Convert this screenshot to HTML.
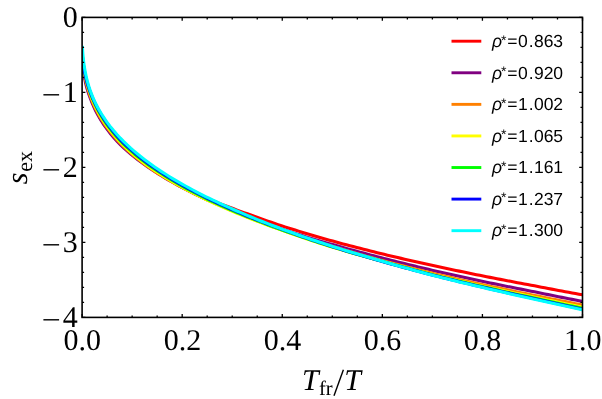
<!DOCTYPE html>
<html><head><meta charset="utf-8"><title>plot</title>
<style>
html,body{margin:0;padding:0;background:#fff;}
body{width:602px;height:399px;overflow:hidden;}
svg{display:block;will-change:transform;}
text{text-rendering:geometricPrecision;}
.t{font-family:"Liberation Serif",serif;font-size:30px;fill:#000;}
.l{font-family:"Liberation Sans",sans-serif;font-size:17.5px;fill:#000;}
</style></head><body>
<svg width="602" height="399" viewBox="0 0 602 399">
<rect width="602" height="399" fill="#fff"/>
<defs><clipPath id="c"><rect x="82.10" y="17.40" width="500.40" height="300.00"/></clipPath></defs>
<g clip-path="url(#c)" fill="none" stroke-width="3.10" stroke-linejoin="round">
<polyline stroke="#ff0000" points="81.97,51.65 82.00,52.24 82.03,52.84 82.06,53.46 82.09,54.10 82.13,54.75 82.17,55.42 82.21,56.10 82.26,56.80 82.31,57.52 82.36,58.25 82.42,59.01 82.49,59.78 82.56,60.57 82.63,61.39 82.71,62.22 82.79,63.07 82.89,63.95 82.99,64.84 83.10,65.76 83.21,66.70 83.34,67.66 83.47,68.65 83.62,69.66 83.78,70.70 83.95,71.76 84.12,72.84 84.30,73.96 84.49,75.10 84.70,76.28 84.92,77.48 85.16,78.71 85.42,79.97 85.70,81.26 86.00,82.58 86.33,83.93 86.68,85.32 87.06,86.74 87.47,88.19 87.91,89.68 88.39,91.20 88.90,92.76 89.45,94.36 90.05,95.99 90.69,97.66 91.32,99.40 91.99,101.17 92.72,103.00 93.50,104.86 94.35,106.78 95.27,108.74 96.26,110.75 97.33,112.81 98.46,114.94 99.68,117.12 101.00,119.36 102.43,121.66 103.97,124.01 105.63,126.43 107.43,128.92 110.77,133.23 114.12,137.21 117.47,140.92 120.82,144.41 124.22,147.65 127.64,150.71 131.06,153.61 134.48,156.37 137.90,159.02 141.32,161.55 144.74,163.99 148.16,166.35 151.58,168.62 155.00,170.81 158.42,172.94 161.84,175.00 165.26,177.01 168.68,178.96 172.10,180.86 175.52,182.71 178.94,184.51 182.36,186.28 185.76,188.04 189.16,189.77 192.56,191.46 195.96,193.11 199.36,194.74 202.76,196.33 206.16,197.90 209.57,199.43 212.99,200.91 216.44,202.28 219.89,203.63 223.33,204.96 226.78,206.26 230.23,207.54 233.66,208.82 237.09,210.11 240.52,211.37 243.95,212.61 247.38,213.83 250.80,215.06 254.21,216.30 257.62,217.54 261.03,218.75 264.44,219.96 267.85,221.14 271.26,222.32 274.66,223.48 278.07,224.62 281.48,225.76 284.90,226.86 288.32,227.95 291.73,229.02 295.15,230.08 298.57,231.14 301.98,232.18 305.40,233.21 308.82,234.23 312.23,235.24 315.65,236.24 319.07,237.23 322.49,238.21 325.90,239.18 329.32,240.14 332.74,241.09 336.16,242.03 339.58,242.96 343.00,243.88 346.41,244.80 349.83,245.70 353.25,246.60 356.67,247.49 360.09,248.37 363.51,249.25 366.93,250.12 370.35,250.98 373.77,251.83 377.19,252.68 380.61,253.52 384.03,254.35 387.45,255.17 390.87,255.98 394.29,256.78 397.72,257.58 401.14,258.37 404.56,259.15 407.98,259.93 411.40,260.71 414.83,261.48 418.25,262.24 421.67,263.00 425.09,263.75 428.51,264.50 431.94,265.24 435.36,265.99 438.77,266.74 442.19,267.48 445.61,268.22 449.03,268.95 452.45,269.68 455.87,270.40 459.29,271.12 462.71,271.83 466.13,272.54 469.55,273.25 472.97,273.95 476.39,274.65 479.80,275.34 483.22,276.03 486.64,276.71 490.07,277.38 493.49,278.05 496.91,278.72 500.33,279.38 503.75,280.04 507.17,280.70 510.59,281.35 514.01,282.00 517.43,282.65 520.85,283.29 524.27,283.93 527.69,284.57 531.11,285.20 534.53,285.85 537.94,286.51 541.36,287.17 544.77,287.82 548.18,288.47 551.60,289.12 555.01,289.76 558.43,290.40 561.84,291.04 565.26,291.67 568.67,292.31 572.09,292.93 575.50,293.56 578.92,294.18 582.33,294.80"/>
<polyline stroke="#800080" points="81.97,56.04 82.00,56.57 82.03,57.11 82.06,57.66 82.09,58.23 82.13,58.82 82.17,59.42 82.21,60.03 82.26,60.66 82.31,61.31 82.36,61.98 82.42,62.66 82.49,63.37 82.56,64.09 82.63,64.83 82.71,65.59 82.79,66.37 82.89,67.17 82.99,67.99 83.10,68.84 83.21,69.70 83.34,70.59 83.47,71.51 83.62,72.44 83.78,73.40 83.95,74.39 84.12,75.41 84.29,76.45 84.48,77.52 84.69,78.62 84.91,79.75 85.15,80.90 85.40,82.09 85.68,83.31 85.98,84.56 86.30,85.85 86.65,87.16 87.02,88.52 87.43,89.90 87.86,91.33 88.33,92.78 88.84,94.28 89.39,95.81 89.98,97.39 90.61,99.00 91.24,100.68 91.91,102.40 92.64,104.17 93.43,105.99 94.27,107.85 95.19,109.77 96.18,111.74 97.25,113.76 98.38,115.84 99.61,117.99 100.94,120.19 102.37,122.45 103.91,124.78 105.58,127.18 107.38,129.64 110.74,133.92 114.09,137.88 117.45,141.59 120.82,145.07 124.22,148.33 127.64,151.40 131.06,154.32 134.48,157.11 137.90,159.79 141.32,162.36 144.74,164.83 148.16,167.22 151.58,169.53 155.00,171.77 158.42,173.93 161.84,176.04 165.26,178.09 168.68,180.08 172.10,182.02 175.52,183.92 178.94,185.77 182.36,187.58 185.77,189.37 189.18,191.11 192.59,192.83 196.01,194.50 199.42,196.15 202.83,197.77 206.24,199.35 209.66,200.91 213.07,202.44 216.48,203.95 219.90,205.43 223.31,206.89 226.73,208.32 230.14,209.74 233.55,211.14 236.96,212.53 240.36,213.91 243.77,215.26 247.18,216.60 250.59,217.92 254.00,219.22 257.40,220.51 260.81,221.78 264.22,223.03 267.63,224.27 271.04,225.50 274.45,226.71 277.86,227.91 281.27,229.09 284.70,230.21 288.13,231.31 291.56,232.40 294.99,233.47 298.42,234.54 301.85,235.59 305.28,236.63 308.71,237.66 312.14,238.68 315.57,239.69 319.00,240.69 322.42,241.68 325.85,242.66 329.28,243.63 332.71,244.60 336.13,245.58 339.55,246.55 342.97,247.51 346.39,248.47 349.81,249.41 353.23,250.35 356.65,251.28 360.07,252.20 363.50,253.12 366.92,254.03 370.34,254.93 373.76,255.82 377.18,256.71 380.60,257.59 384.02,258.47 387.44,259.34 390.86,260.21 394.28,261.07 397.70,261.92 401.12,262.77 404.53,263.62 407.95,264.45 411.37,265.28 414.79,266.11 418.21,266.93 421.63,267.75 425.05,268.56 428.47,269.36 431.89,270.16 435.31,270.95 438.73,271.73 442.15,272.51 445.57,273.28 448.99,274.05 452.41,274.82 455.83,275.58 459.25,276.33 462.67,277.08 466.10,277.83 469.52,278.57 472.94,279.31 476.36,280.04 479.78,280.77 483.20,281.49 486.62,282.21 490.04,282.92 493.47,283.62 496.89,284.33 500.31,285.03 503.73,285.72 507.15,286.41 510.57,287.10 514.00,287.79 517.42,288.47 520.84,289.14 524.26,289.82 527.68,290.49 531.11,291.15 534.52,291.85 537.93,292.55 541.35,293.24 544.76,293.94 548.18,294.63 551.59,295.31 555.01,296.00 558.42,296.68 561.83,297.36 565.25,298.03 568.66,298.70 572.08,299.37 575.49,300.04 578.91,300.70 582.32,301.36"/>
<polyline stroke="#ff8000" points="81.91,48.48 81.94,49.05 81.96,49.64 81.99,50.24 82.02,50.86 82.05,51.50 82.09,52.15 82.13,52.82 82.17,53.50 82.21,54.21 82.26,54.93 82.31,55.68 82.37,56.44 82.43,57.22 82.49,58.02 82.56,58.85 82.64,59.69 82.72,60.56 82.81,61.45 82.91,62.36 83.01,63.30 83.12,64.26 83.24,65.25 83.37,66.26 83.51,67.30 83.66,68.36 83.81,69.46 83.98,70.58 84.15,71.74 84.34,72.92 84.55,74.13 84.77,75.38 85.01,76.66 85.27,77.97 85.55,79.32 85.85,80.70 86.18,82.12 86.53,83.57 86.91,85.07 87.32,86.60 87.76,88.17 88.24,89.78 88.75,91.44 89.31,93.13 89.91,94.88 90.54,96.67 91.21,98.51 91.95,100.40 92.74,102.34 93.59,104.33 94.51,106.37 95.50,108.47 96.58,110.62 97.74,112.83 98.99,115.10 100.34,117.42 101.80,119.81 103.37,122.26 105.07,124.78 106.91,127.36 110.32,131.85 113.73,135.99 117.14,139.85 120.55,143.47 123.98,146.88 127.40,150.10 130.83,153.16 134.26,156.09 137.69,158.89 141.12,161.58 144.54,164.17 147.97,166.66 151.40,169.06 154.85,171.37 158.29,173.61 161.73,175.78 165.17,177.88 168.61,179.93 172.05,181.93 175.49,183.87 178.92,185.77 182.36,187.62 185.80,189.43 189.23,191.20 192.67,192.93 196.10,194.63 199.54,196.29 202.97,197.92 206.41,199.52 209.84,201.09 213.27,202.63 216.70,204.14 220.14,205.63 223.57,207.09 227.00,208.53 230.43,209.95 233.85,211.37 237.25,212.81 240.66,214.23 244.06,215.62 247.47,217.00 250.87,218.36 254.28,219.71 257.69,221.03 261.09,222.34 264.50,223.64 267.91,224.91 271.32,226.18 274.72,227.43 278.13,228.66 281.54,229.88 284.95,231.08 288.37,232.26 291.78,233.42 295.20,234.58 298.61,235.72 302.02,236.85 305.44,237.97 308.85,239.08 312.27,240.18 315.68,241.27 319.10,242.35 322.51,243.42 325.93,244.47 329.34,245.52 332.76,246.56 336.17,247.58 339.59,248.60 343.01,249.61 346.43,250.60 349.84,251.59 353.26,252.57 356.68,253.55 360.09,254.51 363.51,255.47 366.93,256.42 370.35,257.36 373.76,258.30 377.18,259.23 380.60,260.15 384.02,261.06 387.44,261.96 390.85,262.85 394.27,263.74 397.69,264.62 401.11,265.50 404.53,266.37 407.95,267.23 411.37,268.09 414.79,268.94 418.21,269.79 421.63,270.63 425.05,271.46 428.47,272.29 431.88,273.12 435.31,273.92 438.73,274.73 442.15,275.52 445.57,276.31 449.00,277.10 452.42,277.88 455.84,278.65 459.26,279.42 462.68,280.19 466.11,280.95 469.53,281.71 472.95,282.46 476.37,283.21 479.79,283.96 483.22,284.70 486.64,285.44 490.06,286.18 493.48,286.91 496.90,287.64 500.32,288.37 503.74,289.09 507.16,289.81 510.58,290.53 514.00,291.24 517.42,291.94 520.84,292.65 524.26,293.35 527.68,294.04 531.10,294.74 534.52,295.44 537.94,296.14 541.36,296.84 544.77,297.53 548.19,298.23 551.61,298.92 555.02,299.60 558.44,300.28 561.86,300.96 565.28,301.64 568.69,302.31 572.11,302.98 575.53,303.65 578.95,304.31 582.36,304.97"/>
<polyline stroke="#ffff00" points="81.91,46.92 81.94,47.49 81.96,48.06 81.99,48.66 82.02,49.27 82.05,49.89 82.09,50.54 82.13,51.20 82.17,51.88 82.21,52.57 82.26,53.29 82.31,54.02 82.37,54.77 82.43,55.55 82.49,56.34 82.56,57.16 82.64,57.99 82.72,58.85 82.81,59.74 82.91,60.64 83.01,61.57 83.12,62.53 83.24,63.51 83.37,64.51 83.51,65.55 83.66,66.61 83.81,67.69 83.98,68.81 84.16,69.96 84.35,71.14 84.56,72.35 84.78,73.59 85.02,74.87 85.28,76.18 85.57,77.52 85.87,78.90 86.20,80.32 86.55,81.77 86.94,83.26 87.35,84.80 87.79,86.37 88.27,87.98 88.79,89.64 89.35,91.34 89.95,93.08 90.58,94.88 91.26,96.73 91.99,98.63 92.78,100.57 93.63,102.57 94.55,104.63 95.55,106.73 96.62,108.90 97.77,111.13 99.01,113.42 100.35,115.77 101.80,118.18 103.36,120.66 105.05,123.21 106.88,125.83 110.26,130.38 113.65,134.59 117.04,138.52 120.43,142.21 123.86,145.67 127.30,148.92 130.74,152.03 134.17,154.99 137.61,157.82 141.05,160.54 144.48,163.16 147.92,165.69 151.35,168.13 154.78,170.49 158.22,172.79 161.65,175.01 165.08,177.17 168.51,179.27 171.94,181.32 175.37,183.32 178.80,185.27 182.23,187.18 185.66,189.05 189.08,190.88 192.50,192.68 195.93,194.44 199.35,196.16 202.77,197.86 206.19,199.52 209.62,201.15 213.04,202.75 216.46,204.33 219.88,205.88 223.30,207.40 226.73,208.90 230.15,210.38 233.57,211.83 237.00,213.25 240.43,214.65 243.85,216.03 247.28,217.39 250.71,218.73 254.13,220.06 257.56,221.37 260.99,222.66 264.41,223.93 267.84,225.19 271.26,226.43 274.69,227.66 278.11,228.88 281.54,230.08 284.95,231.30 288.36,232.52 291.77,233.73 295.18,234.92 298.59,236.10 302.00,237.27 305.41,238.43 308.82,239.58 312.23,240.71 315.64,241.84 319.05,242.95 322.46,244.06 325.88,245.15 329.29,246.24 332.70,247.30 336.13,248.32 339.56,249.33 342.98,250.33 346.41,251.32 349.83,252.30 353.26,253.27 356.69,254.24 360.11,255.19 363.54,256.14 366.97,257.08 370.39,258.02 373.82,258.94 377.24,259.86 380.67,260.77 384.09,261.71 387.50,262.65 390.91,263.59 394.33,264.52 397.74,265.44 401.15,266.36 404.57,267.27 407.98,268.17 411.40,269.07 414.81,269.96 418.22,270.85 421.64,271.73 425.05,272.61 428.47,273.47 431.88,274.34 435.30,275.17 438.73,275.99 442.15,276.80 445.57,277.62 448.99,278.42 452.42,279.22 455.84,280.02 459.26,280.81 462.68,281.60 466.10,282.38 469.53,283.16 472.95,283.93 476.37,284.70 479.79,285.47 483.21,286.23 486.63,286.99 490.05,287.75 493.48,288.50 496.90,289.25 500.32,290.00 503.74,290.74 507.16,291.48 510.58,292.21 514.00,292.94 517.42,293.67 520.84,294.39 524.26,295.11 527.68,295.82 531.10,296.54 534.52,297.26 537.93,297.99 541.35,298.72 544.76,299.45 548.18,300.17 551.59,300.88 555.01,301.60 558.42,302.31 561.84,303.02 565.25,303.72 568.67,304.42 572.08,305.12 575.50,305.82 578.92,306.51 582.33,307.19"/>
<polyline stroke="#00ff00" points="81.91,47.43 81.94,47.96 81.96,48.51 81.99,49.08 82.02,49.66 82.05,50.26 82.09,50.87 82.13,51.50 82.17,52.15 82.21,52.81 82.26,53.50 82.31,54.20 82.37,54.92 82.43,55.66 82.49,56.43 82.56,57.21 82.64,58.01 82.72,58.84 82.81,59.69 82.91,60.56 83.01,61.46 83.12,62.38 83.24,63.33 83.37,64.30 83.51,65.30 83.66,66.32 83.82,67.38 83.98,68.46 84.17,69.57 84.36,70.72 84.57,71.89 84.80,73.10 85.04,74.34 85.31,75.62 85.60,76.92 85.90,78.27 86.24,79.65 86.60,81.07 86.99,82.53 87.40,84.02 87.86,85.56 88.34,87.14 88.87,88.76 89.44,90.42 90.05,92.13 90.68,93.90 91.35,95.72 92.08,97.58 92.87,99.50 93.73,101.47 94.65,103.50 95.64,105.58 96.71,107.72 97.86,109.92 99.09,112.19 100.43,114.52 101.87,116.92 103.43,119.39 105.11,121.92 106.92,124.53 110.30,129.07 113.68,133.27 117.06,137.20 120.44,140.89 123.86,144.35 127.30,147.61 130.74,150.71 134.17,153.68 137.61,156.52 141.05,159.25 144.48,161.88 147.92,164.42 151.35,166.88 154.77,169.27 158.20,171.58 161.62,173.83 165.05,176.02 168.47,178.15 171.90,180.23 175.32,182.26 178.74,184.24 182.17,186.17 185.60,188.05 189.03,189.90 192.45,191.70 195.88,193.47 199.31,195.21 202.74,196.91 206.16,198.58 209.59,200.23 213.02,201.84 216.44,203.43 219.87,204.99 223.29,206.52 226.72,208.03 230.15,209.52 233.57,210.99 236.99,212.45 240.41,213.89 243.83,215.30 247.25,216.70 250.67,218.07 254.09,219.43 257.52,220.78 260.94,222.10 264.36,223.41 267.78,224.70 271.20,225.98 274.62,227.25 278.04,228.49 281.46,229.73 284.88,230.96 288.29,232.19 291.71,233.40 295.12,234.60 298.54,235.78 301.95,236.96 305.37,238.12 308.79,239.27 312.20,240.41 315.62,241.54 319.03,242.66 322.45,243.77 325.87,244.87 329.28,245.96 332.70,247.03 336.12,248.08 339.55,249.11 342.97,250.13 346.40,251.15 349.82,252.16 353.25,253.15 356.67,254.15 360.10,255.13 363.52,256.10 366.95,257.07 370.37,258.03 373.79,258.98 377.22,259.93 380.64,260.86 384.06,261.81 387.48,262.77 390.89,263.72 394.31,264.66 397.72,265.60 401.14,266.52 404.55,267.45 407.97,268.36 411.38,269.28 414.80,270.18 418.22,271.08 421.63,271.97 425.05,272.86 428.46,273.74 431.88,274.62 435.30,275.46 438.72,276.31 442.15,277.14 445.57,277.97 448.99,278.79 452.41,279.61 455.84,280.43 459.26,281.24 462.68,282.05 466.10,282.85 469.52,283.64 472.95,284.43 476.37,285.22 479.79,286.00 483.21,286.78 486.63,287.56 490.05,288.34 493.47,289.11 496.89,289.88 500.31,290.64 503.73,291.40 507.15,292.16 510.58,292.91 514.00,293.66 517.42,294.40 520.84,295.14 524.26,295.88 527.68,296.61 531.10,297.34 534.51,298.09 537.93,298.84 541.34,299.58 544.76,300.32 548.17,301.06 551.59,301.80 555.00,302.53 558.42,303.26 561.84,303.98 565.25,304.70 568.67,305.42 572.08,306.14 575.50,306.85 578.91,307.56 582.33,308.26"/>
<polyline stroke="#0000ff" points="81.91,48.93 81.94,49.43 81.96,49.94 81.99,50.47 82.02,51.01 82.05,51.57 82.09,52.14 82.13,52.73 82.17,53.34 82.21,53.96 82.26,54.60 82.31,55.26 82.37,55.94 82.43,56.64 82.49,57.36 82.56,58.10 82.64,58.86 82.72,59.64 82.81,60.45 82.91,61.27 83.01,62.12 83.12,63.00 83.24,63.90 83.37,64.82 83.51,65.78 83.66,66.75 83.82,67.76 83.99,68.80 84.17,69.86 84.37,70.96 84.59,72.08 84.82,73.24 85.07,74.43 85.34,75.66 85.63,76.92 85.94,78.21 86.28,79.54 86.64,80.91 87.04,82.31 87.46,83.76 87.92,85.25 88.42,86.77 88.95,88.34 89.53,89.96 90.14,91.61 90.78,93.33 91.46,95.10 92.20,96.91 93.00,98.78 93.87,100.70 94.80,102.67 95.80,104.70 96.88,106.79 98.03,108.96 99.25,111.19 100.58,113.48 102.01,115.85 103.55,118.28 105.22,120.79 107.02,123.37 110.37,127.88 113.72,132.06 117.08,135.97 120.44,139.66 123.85,143.11 127.29,146.37 130.72,149.47 134.15,152.44 137.58,155.28 141.01,158.02 144.44,160.66 147.87,163.21 151.30,165.68 154.72,168.08 158.14,170.41 161.57,172.67 164.99,174.88 168.41,177.02 171.84,179.12 175.26,181.16 178.68,183.16 182.10,185.11 185.53,187.01 188.96,188.87 192.39,190.69 195.82,192.48 199.25,194.23 202.68,195.95 206.10,197.64 209.53,199.30 212.96,200.93 216.38,202.54 219.81,204.12 223.24,205.67 226.66,207.21 230.09,208.71 233.52,210.20 236.94,211.67 240.36,213.12 243.79,214.55 247.21,215.96 250.63,217.35 254.06,218.72 257.48,220.08 260.90,221.42 264.33,222.74 267.75,224.05 271.17,225.35 274.60,226.62 278.02,227.89 281.44,229.14 284.86,230.39 288.28,231.63 291.69,232.86 295.11,234.07 298.53,235.28 301.94,236.47 305.36,237.65 308.78,238.82 312.19,239.98 315.61,241.13 319.03,242.26 322.44,243.39 325.86,244.51 329.28,245.62 332.70,246.71 336.12,247.79 339.54,248.85 342.96,249.91 346.38,250.96 349.80,252.00 353.22,253.03 356.64,254.06 360.06,255.08 363.48,256.08 366.91,257.08 370.33,258.08 373.75,259.06 377.17,260.04 380.59,261.01 384.01,261.98 387.43,262.95 390.85,263.90 394.27,264.85 397.68,265.80 401.10,266.74 404.52,267.67 407.94,268.59 411.36,269.51 414.78,270.42 418.20,271.33 421.62,272.23 425.04,273.13 428.46,274.02 431.88,274.90 435.30,275.76 438.72,276.62 442.15,277.47 445.57,278.31 449.00,279.15 452.42,279.99 455.84,280.82 459.27,281.64 462.69,282.46 466.11,283.28 469.54,284.09 472.96,284.89 476.39,285.69 479.81,286.49 483.23,287.28 486.65,288.08 490.08,288.87 493.50,289.65 496.92,290.44 500.34,291.21 503.76,291.99 507.18,292.76 510.61,293.52 514.03,294.28 517.45,295.04 520.87,295.80 524.29,296.55 527.72,297.29 531.14,298.04 534.55,298.80 537.97,299.57 541.38,300.34 544.80,301.10 548.21,301.86 551.63,302.61 555.04,303.36 558.46,304.11 561.87,304.86 565.29,305.60 568.70,306.34 572.12,307.07 575.53,307.80 578.95,308.53 582.36,309.26"/>
<polyline stroke="#00ffff" points="82.38,45.89 82.40,46.40 82.42,46.92 82.45,47.46 82.47,48.01 82.50,48.58 82.54,49.17 82.57,49.77 82.61,50.39 82.65,51.02 82.69,51.68 82.74,52.35 82.79,53.04 82.84,53.76 82.90,54.49 82.97,55.24 83.04,56.02 83.11,56.81 83.19,57.63 83.28,58.48 83.37,59.34 83.47,60.23 83.58,61.15 83.70,62.09 83.82,63.06 83.96,64.06 84.10,65.09 84.26,66.14 84.43,67.23 84.61,68.34 84.80,69.49 85.01,70.67 85.23,71.89 85.48,73.14 85.74,74.43 86.03,75.75 86.33,77.11 86.67,78.51 87.02,79.95 87.41,81.43 87.83,82.95 88.28,84.52 88.77,86.13 89.29,87.79 89.86,89.50 90.48,91.26 91.15,93.06 91.87,94.92 92.64,96.83 93.48,98.80 94.39,100.82 95.37,102.91 96.43,105.05 97.58,107.25 98.83,109.51 100.18,111.83 101.64,114.23 103.22,116.69 104.91,119.22 106.75,121.82 110.15,126.36 113.56,130.56 116.97,134.49 120.38,138.19 123.80,141.67 127.23,144.97 130.66,148.12 134.09,151.13 137.52,154.01 140.95,156.79 144.37,159.47 147.80,162.05 151.23,164.55 154.66,166.97 158.09,169.32 161.52,171.59 164.95,173.81 168.39,175.97 171.82,178.08 175.24,180.13 178.67,182.14 182.10,184.11 185.53,186.02 188.96,187.90 192.39,189.75 195.82,191.55 199.25,193.32 202.67,195.06 206.10,196.77 209.53,198.45 212.96,200.10 216.38,201.72 219.81,203.31 223.24,204.88 226.66,206.43 230.09,207.95 233.51,209.47 236.93,210.97 240.34,212.45 243.76,213.91 247.18,215.35 250.59,216.77 254.01,218.18 257.43,219.57 260.84,220.94 264.26,222.29 267.68,223.63 271.09,224.95 274.51,226.26 277.93,227.56 281.35,228.84 284.77,230.09 288.19,231.33 291.61,232.56 295.03,233.78 298.45,234.98 301.87,236.17 305.30,237.35 308.72,238.52 312.14,239.68 315.56,240.82 318.98,241.96 322.40,243.08 325.82,244.20 329.25,245.30 332.67,246.40 336.09,247.48 339.51,248.55 342.93,249.62 346.36,250.67 349.78,251.72 353.20,252.76 356.62,253.79 360.04,254.81 363.47,255.83 366.89,256.83 370.31,257.83 373.73,258.82 377.15,259.81 380.57,260.78 383.99,261.77 387.41,262.76 390.82,263.75 394.23,264.72 397.65,265.70 401.06,266.66 404.47,267.62 407.89,268.57 411.30,269.52 414.72,270.46 418.13,271.39 421.55,272.32 424.96,273.24 428.38,274.16 431.79,275.07 435.21,275.94 438.64,276.81 442.06,277.67 445.48,278.52 448.91,279.37 452.33,280.21 455.76,281.05 459.18,281.89 462.60,282.72 466.03,283.54 469.45,284.36 472.87,285.18 476.30,285.99 479.72,286.80 483.14,287.60 486.56,288.40 489.99,289.20 493.41,289.99 496.83,290.78 500.25,291.56 503.68,292.34 507.10,293.12 510.52,293.89 513.94,294.66 517.36,295.42 520.79,296.18 524.21,296.94 527.63,297.69 531.05,298.44 534.47,299.21 537.88,299.99 541.30,300.76 544.71,301.52 548.13,302.29 551.54,303.05 554.96,303.81 558.37,304.56 561.79,305.31 565.21,306.06 568.62,306.80 572.04,307.54 575.45,308.28 578.87,309.02 582.28,309.74"/>
</g>
<path d="M82.10,317.40v-3.3M82.10,17.40v3.3M107.12,317.40v-2.0M107.12,17.40v2.0M132.14,317.40v-2.0M132.14,17.40v2.0M157.16,317.40v-2.0M157.16,17.40v2.0M182.18,317.40v-3.3M182.18,17.40v3.3M207.20,317.40v-2.0M207.20,17.40v2.0M232.22,317.40v-2.0M232.22,17.40v2.0M257.24,317.40v-2.0M257.24,17.40v2.0M282.26,317.40v-3.3M282.26,17.40v3.3M307.28,317.40v-2.0M307.28,17.40v2.0M332.30,317.40v-2.0M332.30,17.40v2.0M357.32,317.40v-2.0M357.32,17.40v2.0M382.34,317.40v-3.3M382.34,17.40v3.3M407.36,317.40v-2.0M407.36,17.40v2.0M432.38,317.40v-2.0M432.38,17.40v2.0M457.40,317.40v-2.0M457.40,17.40v2.0M482.42,317.40v-3.3M482.42,17.40v3.3M507.44,317.40v-2.0M507.44,17.40v2.0M532.46,317.40v-2.0M532.46,17.40v2.0M557.48,317.40v-2.0M557.48,17.40v2.0M582.50,317.40v-3.3M582.50,17.40v3.3M82.10,17.40h3.3M582.50,17.40h-3.3M82.10,32.40h2.0M582.50,32.40h-2.0M82.10,47.40h2.0M582.50,47.40h-2.0M82.10,62.40h2.0M582.50,62.40h-2.0M82.10,77.40h2.0M582.50,77.40h-2.0M82.10,92.40h3.3M582.50,92.40h-3.3M82.10,107.40h2.0M582.50,107.40h-2.0M82.10,122.40h2.0M582.50,122.40h-2.0M82.10,137.40h2.0M582.50,137.40h-2.0M82.10,152.40h2.0M582.50,152.40h-2.0M82.10,167.40h3.3M582.50,167.40h-3.3M82.10,182.40h2.0M582.50,182.40h-2.0M82.10,197.40h2.0M582.50,197.40h-2.0M82.10,212.40h2.0M582.50,212.40h-2.0M82.10,227.40h2.0M582.50,227.40h-2.0M82.10,242.40h3.3M582.50,242.40h-3.3M82.10,257.40h2.0M582.50,257.40h-2.0M82.10,272.40h2.0M582.50,272.40h-2.0M82.10,287.40h2.0M582.50,287.40h-2.0M82.10,302.40h2.0M582.50,302.40h-2.0M82.10,317.40h3.3M582.50,317.40h-3.3" stroke="#000" stroke-width="1.3" fill="none"/>
<rect x="82.10" y="17.40" width="500.40" height="300.00" fill="none" stroke="#000" stroke-width="1.6"/>
<text class="t" x="82.30" y="349.6" text-anchor="middle">0.0</text>
<text class="t" x="182.38" y="349.6" text-anchor="middle">0.2</text>
<text class="t" x="282.46" y="349.6" text-anchor="middle">0.4</text>
<text class="t" x="382.54" y="349.6" text-anchor="middle">0.6</text>
<text class="t" x="482.62" y="349.6" text-anchor="middle">0.8</text>
<text class="t" x="582.70" y="349.6" text-anchor="middle">1.0</text>
<text class="t" x="62.7" y="27.30">0</text>
<text class="t" x="62.7" y="102.30">1</text>
<rect x="43.4" y="94.10" width="15.7" height="1.4" fill="#000"/>
<text class="t" x="62.7" y="177.30">2</text>
<rect x="43.4" y="169.10" width="15.7" height="1.4" fill="#000"/>
<text class="t" x="62.7" y="252.30">3</text>
<rect x="43.4" y="244.10" width="15.7" height="1.4" fill="#000"/>
<text class="t" x="62.7" y="327.30">4</text>
<rect x="43.4" y="319.10" width="15.7" height="1.4" fill="#000"/>
<g transform="translate(27.0,184.2) rotate(-90)"><text class="t" x="0" y="0" font-style="italic">s</text><text x="12.5" y="5" style="font-family:'Liberation Serif',serif;font-size:22px">ex</text></g>
<text class="t" x="301.9" y="390.2" font-style="italic">T</text>
<text x="319.0" y="394.8" style="font-family:'Liberation Serif',serif;font-size:20.5px">fr</text>
<line x1="334.0" y1="395.7" x2="343.4" y2="369.7" stroke="#000" stroke-width="1.4"/>
<text class="t" x="344.3" y="390.2" font-style="italic">T</text>
<line x1="451.5" y1="41.20" x2="481.3" y2="41.20" stroke="#ff0000" stroke-width="2.9"/>
<text class="l" y="47.40"><tspan x="492.0" font-style="italic">ρ</tspan><tspan x="501.0" dy="-2.6" font-size="14px">*</tspan><tspan x="507.3 518.0 528.7 534.0 543.7 553.3" dy="2.6">=0.863</tspan></text>
<line x1="451.5" y1="72.78" x2="481.3" y2="72.78" stroke="#800080" stroke-width="2.9"/>
<text class="l" y="78.85"><tspan x="492.0" font-style="italic">ρ</tspan><tspan x="501.0" dy="-2.6" font-size="14px">*</tspan><tspan x="507.3 518.0 528.7 534.0 543.7 553.3" dy="2.6">=0.920</tspan></text>
<line x1="451.5" y1="104.36" x2="481.3" y2="104.36" stroke="#ff8000" stroke-width="2.9"/>
<text class="l" y="110.30"><tspan x="492.0" font-style="italic">ρ</tspan><tspan x="501.0" dy="-2.6" font-size="14px">*</tspan><tspan x="507.3 518.0 528.7 534.0 543.7 553.3" dy="2.6">=1.002</tspan></text>
<line x1="451.5" y1="135.94" x2="481.3" y2="135.94" stroke="#ffff00" stroke-width="2.9"/>
<text class="l" y="141.75"><tspan x="492.0" font-style="italic">ρ</tspan><tspan x="501.0" dy="-2.6" font-size="14px">*</tspan><tspan x="507.3 518.0 528.7 534.0 543.7 553.3" dy="2.6">=1.065</tspan></text>
<line x1="451.5" y1="167.52" x2="481.3" y2="167.52" stroke="#00ff00" stroke-width="2.9"/>
<text class="l" y="173.20"><tspan x="492.0" font-style="italic">ρ</tspan><tspan x="501.0" dy="-2.6" font-size="14px">*</tspan><tspan x="507.3 518.0 528.7 534.0 543.7 553.3" dy="2.6">=1.161</tspan></text>
<line x1="451.5" y1="199.10" x2="481.3" y2="199.10" stroke="#0000ff" stroke-width="2.9"/>
<text class="l" y="204.65"><tspan x="492.0" font-style="italic">ρ</tspan><tspan x="501.0" dy="-2.6" font-size="14px">*</tspan><tspan x="507.3 518.0 528.7 534.0 543.7 553.3" dy="2.6">=1.237</tspan></text>
<line x1="451.5" y1="230.68" x2="481.3" y2="230.68" stroke="#00ffff" stroke-width="2.9"/>
<text class="l" y="236.10"><tspan x="492.0" font-style="italic">ρ</tspan><tspan x="501.0" dy="-2.6" font-size="14px">*</tspan><tspan x="507.3 518.0 528.7 534.0 543.7 553.3" dy="2.6">=1.300</tspan></text>
</svg></body></html>
